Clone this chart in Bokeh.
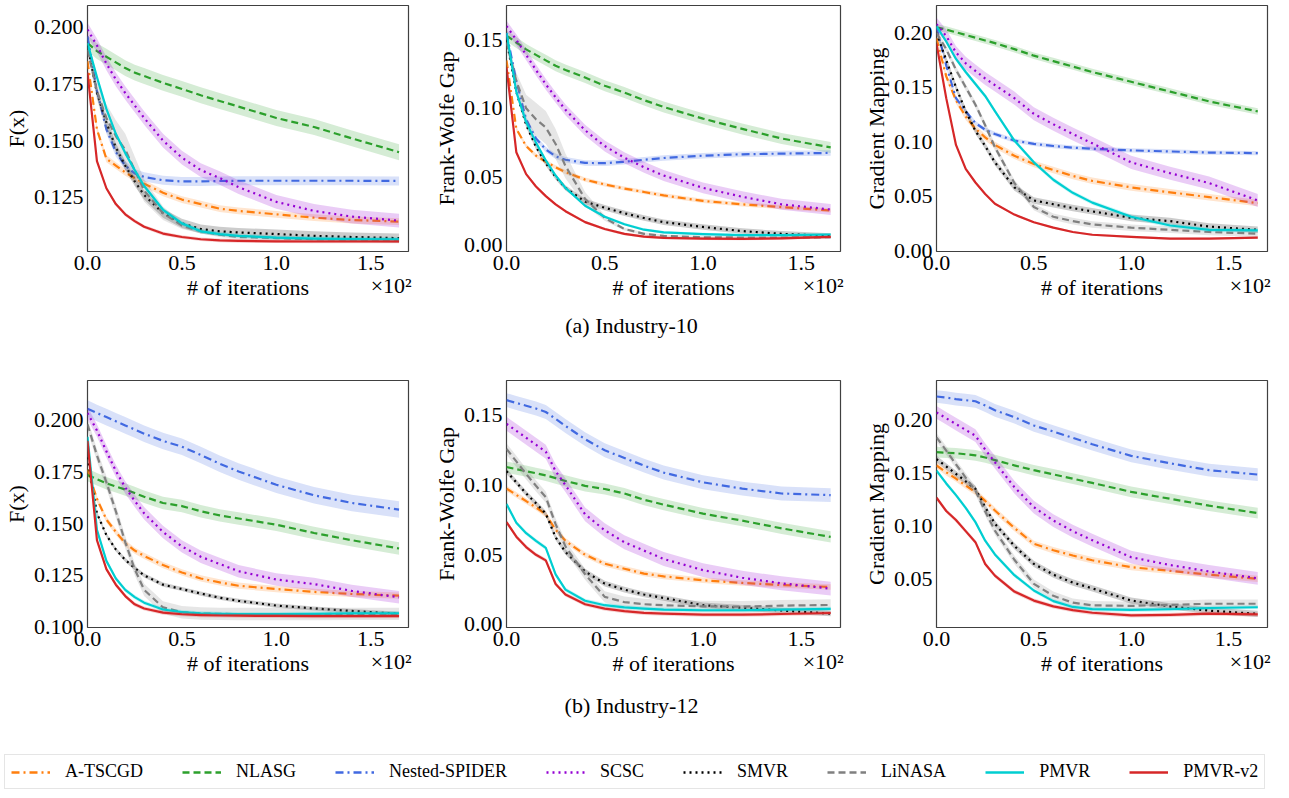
import numpy as np
from bokeh.plotting import figure
from bokeh.layouts import column, row
from bokeh.models import (Range1d, FixedTicker, NumeralTickFormatter, LinearAxis, Legend, LegendItem)
from bokeh.core.properties import value
from bokeh.embed import file_html
from bokeh.resources import INLINE

FONT = "Liberation Serif"

# ---------------- data ----------------
ITERS = [0, 5, 10, 15, 20, 25, 30, 40, 50, 60, 70, 80, 100, 120, 140, 165]
METHODS = ["A-TSCGD", "NLASG", "Nested-SPIDER", "SCSC", "SMVR", "LiNASA", "PMVR", "PMVR-v2"]
COLORS = ["#ff7f0e", "#2ca02c", "#4169e1", "#9400d3", "#000000", "#808080", "#00ced1", "#d62728"]
DASHES = ["8 4 2 4", "7 4", "8 4 2 4", "2 4", "2 4", "7 4", "solid", "solid"]
X_TICKS = [0.0, 0.5, 1.0, 1.5]
CAPTIONS = ["(a) Industry-10", "(b) Industry-12"]
X_LABEL = "# of iterations"
X_SCALE_TEXT = "\u00d710\u00b2"

# Industry-10, F(x)
I10_F_ATSCGD = [0.185, 0.155, 0.142, 0.139, 0.136, 0.1335, 0.131, 0.127, 0.124, 0.122, 0.120, 0.119, 0.1175, 0.116, 0.115, 0.1143]
I10_F_NLASG = [0.193, 0.1895, 0.187, 0.1845, 0.182, 0.180, 0.1785, 0.1755, 0.1728, 0.170, 0.1675, 0.165, 0.160, 0.156, 0.151, 0.1449]
I10_F_NESTED = [0.196, 0.172, 0.155, 0.145, 0.139, 0.1355, 0.134, 0.1325, 0.132, 0.132, 0.1322, 0.1323, 0.1323, 0.1323, 0.1323, 0.1322]
I10_F_SCSC = [0.199, 0.192, 0.184, 0.177, 0.171, 0.1655, 0.160, 0.150, 0.1425, 0.137, 0.1335, 0.1295, 0.123, 0.119, 0.1165, 0.1147]
I10_F_SMVR = [0.192, 0.171, 0.158, 0.147, 0.139, 0.132, 0.126, 0.118, 0.1135, 0.111, 0.110, 0.1095, 0.1088, 0.108, 0.1075, 0.107]
I10_F_LINASA = [0.190, 0.172, 0.160, 0.152, 0.146, 0.137, 0.128, 0.118, 0.1125, 0.110, 0.1085, 0.1075, 0.107, 0.1065, 0.1063, 0.1062]
I10_F_PMVR = [0.193, 0.178, 0.164, 0.153, 0.1445, 0.137, 0.130, 0.1195, 0.1135, 0.110, 0.1088, 0.108, 0.1072, 0.1068, 0.1066, 0.1065]
I10_F_PMVR2 = [0.180, 0.141, 0.129, 0.122, 0.1175, 0.1145, 0.112, 0.109, 0.1075, 0.1065, 0.106, 0.1058, 0.1056, 0.1055, 0.1055, 0.1055]
I10_F_LINASA_BAND = [0.002, 0.004, 0.006, 0.007, 0.007, 0.006, 0.005, 0.003, 0.0015, 0.001, 0.001, 0.001, 0.001, 0.001, 0.001, 0.001]
I10_F_BAND = [0.0015, 0.0035, 0.002, 0.003, 0.002, I10_F_LINASA_BAND, 0.001, 0.0008]

# Industry-10, Frank-Wolfe gap
I10_FW_ATSCGD = [0.135, 0.085, 0.0725, 0.0655, 0.061, 0.057, 0.0535, 0.048, 0.0445, 0.0415, 0.039, 0.0365, 0.0325, 0.030, 0.028, 0.0255]
I10_FW_NLASG = [0.153, 0.148, 0.143, 0.139, 0.135, 0.131, 0.128, 0.1225, 0.1165, 0.1115, 0.106, 0.101, 0.0925, 0.085, 0.078, 0.0715]
I10_FW_NESTED = [0.155, 0.120, 0.092, 0.078, 0.070, 0.065, 0.0625, 0.0602, 0.060, 0.061, 0.0625, 0.0638, 0.0655, 0.0665, 0.067, 0.0675]
I10_FW_SCSC = [0.160, 0.150, 0.139, 0.128, 0.1175, 0.108, 0.099, 0.084, 0.0725, 0.064, 0.057, 0.051, 0.042, 0.0355, 0.030, 0.0262]
I10_FW_SMVR = [0.150, 0.112, 0.088, 0.072, 0.060, 0.050, 0.042, 0.032, 0.0275, 0.0235, 0.020, 0.017, 0.0135, 0.0105, 0.0085, 0.007]
I10_FW_LINASA = [0.148, 0.120, 0.100, 0.092, 0.086, 0.074, 0.058, 0.034, 0.020, 0.012, 0.0085, 0.007, 0.006, 0.0058, 0.0058, 0.006]
I10_FW_PMVR = [0.155, 0.112, 0.090, 0.075, 0.062, 0.051, 0.042, 0.029, 0.021, 0.0155, 0.0115, 0.0095, 0.0082, 0.0075, 0.0075, 0.008]
I10_FW_PMVR2 = [0.130, 0.068, 0.052, 0.043, 0.036, 0.030, 0.025, 0.017, 0.012, 0.0085, 0.0065, 0.0055, 0.005, 0.0048, 0.0052, 0.0063]
I10_FW_LINASA_BAND = [0.003, 0.006, 0.010, 0.012, 0.012, 0.011, 0.009, 0.005, 0.002, 0.001, 0.001, 0.001, 0.001, 0.001, 0.001, 0.001]
I10_FW_BAND = [0.0015, 0.004, 0.002, 0.004, 0.002, I10_FW_LINASA_BAND, 0.001, 0.001]

# Industry-10, gradient mapping
I10_GM_ATSCGD = [0.195, 0.160, 0.138, 0.123, 0.112, 0.104, 0.097, 0.087, 0.0795, 0.074, 0.0685, 0.064, 0.058, 0.0535, 0.049, 0.0436]
I10_GM_NLASG = [0.205, 0.203, 0.2005, 0.198, 0.1955, 0.193, 0.1905, 0.185, 0.179, 0.174, 0.169, 0.164, 0.155, 0.146, 0.137, 0.1278]
I10_GM_NESTED = [0.205, 0.170, 0.140, 0.128, 0.117, 0.111, 0.107, 0.101, 0.098, 0.096, 0.0945, 0.0935, 0.092, 0.091, 0.090, 0.0895]
I10_GM_SCSC = [0.208, 0.197, 0.182, 0.172, 0.165, 0.158, 0.152, 0.140, 0.1256, 0.116, 0.107, 0.0985, 0.081, 0.071, 0.062, 0.046]
I10_GM_SMVR = [0.200, 0.175, 0.150, 0.128, 0.110, 0.096, 0.081, 0.058, 0.046, 0.0425, 0.039, 0.036, 0.030, 0.027, 0.022, 0.019]
I10_GM_LINASA = [0.200, 0.185, 0.166, 0.150, 0.134, 0.115, 0.095, 0.062, 0.040, 0.031, 0.027, 0.024, 0.021, 0.019, 0.017, 0.0155]
I10_GM_PMVR = [0.206, 0.192, 0.176, 0.164, 0.153, 0.142, 0.128, 0.101, 0.081, 0.065, 0.053, 0.044, 0.031, 0.023, 0.019, 0.0185]
I10_GM_PMVR2 = [0.190, 0.140, 0.097, 0.075, 0.0625, 0.052, 0.043, 0.033, 0.026, 0.021, 0.017, 0.0145, 0.0125, 0.011, 0.011, 0.0118]
I10_GM_BAND = [0.003, 0.003, 0.002, 0.006, 0.003, 0.003, 0.002, 0.001]

# Industry-12, F(x)
I12_F_ATSCGD = [0.176, 0.162, 0.152, 0.146, 0.1405, 0.137, 0.1344, 0.130, 0.1264, 0.1235, 0.1216, 0.120, 0.1184, 0.117, 0.116, 0.1152]
I12_F_NLASG = [0.1735, 0.1715, 0.1695, 0.168, 0.1665, 0.1648, 0.163, 0.160, 0.1585, 0.156, 0.154, 0.1525, 0.1495, 0.1455, 0.142, 0.138]
I12_F_NESTED = [0.2056, 0.2035, 0.2015, 0.1995, 0.1975, 0.1955, 0.1935, 0.190, 0.1872, 0.1832, 0.179, 0.1752, 0.1688, 0.1637, 0.160, 0.1568]
I12_F_SCSC = [0.2035, 0.195, 0.185, 0.1755, 0.1675, 0.161, 0.155, 0.146, 0.139, 0.134, 0.1305, 0.127, 0.123, 0.1208, 0.1175, 0.1144]
I12_F_SMVR = [0.182, 0.155, 0.1445, 0.1375, 0.1325, 0.1285, 0.125, 0.1205, 0.1184, 0.1162, 0.1142, 0.1127, 0.1104, 0.109, 0.1078, 0.1064]
I12_F_LINASA = [0.198, 0.183, 0.170, 0.156, 0.141, 0.128, 0.118, 0.1095, 0.1072, 0.1066, 0.1064, 0.1063, 0.1063, 0.1063, 0.1064, 0.1064]
I12_F_PMVR = [0.192, 0.147, 0.132, 0.1235, 0.118, 0.1145, 0.1118, 0.1085, 0.1072, 0.1066, 0.1064, 0.1063, 0.1063, 0.1064, 0.1066, 0.1067]
I12_F_PMVR2 = [0.190, 0.142, 0.128, 0.1205, 0.115, 0.111, 0.109, 0.107, 0.1062, 0.1058, 0.1056, 0.1055, 0.1054, 0.1053, 0.1053, 0.1053]
I12_F_BAND = [0.0015, 0.003, 0.004, 0.003, 0.001, 0.003, 0.001, 0.001]

# Industry-12, Frank-Wolfe gap
I12_FW_ATSCGD = [0.0975, 0.093, 0.0885, 0.084, 0.079, 0.068, 0.060, 0.050, 0.0436, 0.040, 0.0365, 0.0345, 0.0317, 0.0298, 0.0283, 0.0269]
I12_FW_NLASG = [0.113, 0.1115, 0.110, 0.1085, 0.107, 0.105, 0.103, 0.0995, 0.0972, 0.094, 0.0895, 0.086, 0.0795, 0.0745, 0.069, 0.0628]
I12_FW_NESTED = [0.161, 0.159, 0.157, 0.155, 0.1525, 0.1475, 0.1425, 0.133, 0.125, 0.1195, 0.114, 0.109, 0.102, 0.0975, 0.094, 0.0928]
I12_FW_SCSC = [0.144, 0.139, 0.134, 0.129, 0.124, 0.110, 0.100, 0.079, 0.0676, 0.059, 0.053, 0.047, 0.039, 0.0335, 0.0295, 0.0257]
I12_FW_SMVR = [0.110, 0.102, 0.094, 0.087, 0.0795, 0.0625, 0.052, 0.038, 0.0293, 0.025, 0.0215, 0.019, 0.0138, 0.012, 0.010, 0.0078]
I12_FW_LINASA = [0.126, 0.117, 0.108, 0.0995, 0.0914, 0.072, 0.056, 0.036, 0.0198, 0.016, 0.0145, 0.0138, 0.013, 0.0128, 0.0135, 0.014]
I12_FW_PMVR = [0.0865, 0.073, 0.0655, 0.060, 0.055, 0.036, 0.025, 0.017, 0.0138, 0.0122, 0.0113, 0.0107, 0.0102, 0.0102, 0.0107, 0.0112]
I12_FW_PMVR2 = [0.0735, 0.063, 0.0555, 0.050, 0.046, 0.029, 0.0215, 0.0145, 0.0114, 0.0095, 0.0083, 0.0077, 0.007, 0.007, 0.0075, 0.0082]
I12_FW_BAND = [0.002, 0.004, 0.005, 0.005, 0.002, 0.004, 0.0015, 0.0015]

# Industry-12, gradient mapping
I12_GM_ATSCGD = [0.157, 0.1505, 0.1445, 0.138, 0.1318, 0.1235, 0.1145, 0.098, 0.083, 0.077, 0.072, 0.0675, 0.061, 0.0575, 0.054, 0.050]
I12_GM_NLASG = [0.1695, 0.169, 0.1685, 0.1675, 0.1665, 0.1645, 0.162, 0.157, 0.1525, 0.1485, 0.1445, 0.1405, 0.132, 0.1255, 0.119, 0.112]
I12_GM_NESTED = [0.222, 0.221, 0.2195, 0.2185, 0.2175, 0.2135, 0.209, 0.2025, 0.1947, 0.189, 0.183, 0.177, 0.166, 0.159, 0.1525, 0.1484]
I12_GM_SCSC = [0.207, 0.2015, 0.196, 0.1905, 0.185, 0.172, 0.160, 0.1365, 0.1176, 0.105, 0.095, 0.0865, 0.0704, 0.063, 0.057, 0.0505]
I12_GM_SMVR = [0.163, 0.156, 0.149, 0.142, 0.1349, 0.1175, 0.102, 0.081, 0.0641, 0.054, 0.0465, 0.041, 0.0295, 0.024, 0.020, 0.017]
I12_GM_LINASA = [0.1835, 0.171, 0.158, 0.1455, 0.1333, 0.1135, 0.0955, 0.068, 0.0453, 0.034, 0.0275, 0.025, 0.0245, 0.0255, 0.0265, 0.0265]
I12_GM_PMVR = [0.152, 0.140, 0.129, 0.117, 0.1035, 0.086, 0.073, 0.0535, 0.039, 0.029, 0.0235, 0.0215, 0.0207, 0.0213, 0.0225, 0.0232]
I12_GM_PMVR2 = [0.1265, 0.114, 0.1055, 0.095, 0.0846, 0.064, 0.053, 0.038, 0.0295, 0.024, 0.0205, 0.018, 0.0155, 0.016, 0.0172, 0.0165]
I12_GM_BAND = [0.003, 0.005, 0.006, 0.006, 0.003, 0.004, 0.002, 0.002]

PANEL_SERIES = [
    [I10_F_ATSCGD, I10_F_NLASG, I10_F_NESTED, I10_F_SCSC, I10_F_SMVR, I10_F_LINASA, I10_F_PMVR, I10_F_PMVR2],
    [I10_FW_ATSCGD, I10_FW_NLASG, I10_FW_NESTED, I10_FW_SCSC, I10_FW_SMVR, I10_FW_LINASA, I10_FW_PMVR, I10_FW_PMVR2],
    [I10_GM_ATSCGD, I10_GM_NLASG, I10_GM_NESTED, I10_GM_SCSC, I10_GM_SMVR, I10_GM_LINASA, I10_GM_PMVR, I10_GM_PMVR2],
    [I12_F_ATSCGD, I12_F_NLASG, I12_F_NESTED, I12_F_SCSC, I12_F_SMVR, I12_F_LINASA, I12_F_PMVR, I12_F_PMVR2],
    [I12_FW_ATSCGD, I12_FW_NLASG, I12_FW_NESTED, I12_FW_SCSC, I12_FW_SMVR, I12_FW_LINASA, I12_FW_PMVR, I12_FW_PMVR2],
    [I12_GM_ATSCGD, I12_GM_NLASG, I12_GM_NESTED, I12_GM_SCSC, I12_GM_SMVR, I12_GM_LINASA, I12_GM_PMVR, I12_GM_PMVR2],
]
PANEL_BANDS = [I10_F_BAND, I10_FW_BAND, I10_GM_BAND, I12_F_BAND, I12_FW_BAND, I12_GM_BAND]
Y_LABELS = ["F(x)", "Frank-Wolfe Gap", "Gradient Mapping", "F(x)", "Frank-Wolfe Gap", "Gradient Mapping"]
Y_RANGES = [(0.1011, 0.2096), (-0.0044, 0.1750), (-0.0009, 0.2251),
            (0.0998, 0.2192), (-0.0022, 0.1751), (0.0041, 0.2371)]
Y_TICKS = [[0.125, 0.150, 0.175, 0.200], [0.0, 0.05, 0.10, 0.15], [0.0, 0.05, 0.10, 0.15, 0.20],
           [0.100, 0.125, 0.150, 0.175, 0.200], [0.0, 0.05, 0.10, 0.15], [0.05, 0.10, 0.15, 0.20]]
Y_FORMATS = ["0.000", "0.00", "0.00", "0.000", "0.00", "0.00"]
X_END = 1.70

# layout: (width, height, left, right, top, bottom)
GEOM = [(430, 310, 83, 22, 5, 59), (430, 310, 73, 20, 5, 59), (413, 310, 72, 6, 5, 59),
        (430, 345, 83, 22, 35, 63), (430, 345, 73, 20, 35, 63), (413, 345, 72, 6, 35, 63)]

X = np.array(ITERS) / 100.0


def style_axis(ax):
    ax.axis_line_color = None
    ax.major_tick_out = 0
    ax.major_tick_in = 0
    ax.minor_tick_out = 0
    ax.minor_tick_in = 0
    ax.major_label_text_font = FONT
    ax.major_label_text_font_size = "22px"
    ax.major_label_text_color = "black"
    ax.axis_label_text_font = FONT
    ax.axis_label_text_font_size = "22px"
    ax.axis_label_text_font_style = "normal"
    ax.axis_label_text_color = "black"
    ax.major_label_standoff = 4
    ax.axis_label_standoff = 2


def make_panel(i):
    w, h, ml, mr, mt, mb = GEOM[i]
    y0, y1 = Y_RANGES[i]
    p = figure(width=w, height=h, x_range=Range1d(0, X_END), y_range=Range1d(y0, y1),
               output_backend="svg", toolbar_location=None,
               min_border_left=ml, min_border_right=mr, min_border_top=mt, min_border_bottom=mb)
    p.grid.visible = False
    p.outline_line_color = "#404040"
    p.outline_line_width = 1.2
    p.background_fill_color = "white"
    p.border_fill_color = "white"
    for ax in (p.xaxis, p.yaxis):
        style_axis(ax)
    p.xaxis.ticker = FixedTicker(ticks=X_TICKS, minor_ticks=[])
    p.xaxis.formatter = NumeralTickFormatter(format="0.0")
    p.xaxis.axis_label = X_LABEL
    p.yaxis.ticker = FixedTicker(ticks=Y_TICKS[i], minor_ticks=[])
    p.yaxis.formatter = NumeralTickFormatter(format=Y_FORMATS[i])
    p.yaxis.axis_label = Y_LABELS[i]

    for k in range(len(METHODS)):
        y = np.array(PANEL_SERIES[i][k])
        b = np.array(PANEL_BANDS[i][k]) * np.ones_like(y)
        p.varea(x=X, y1=y - b, y2=y + b, fill_color=COLORS[k], fill_alpha=0.2)
        p.line(x=X, y=y, line_color=COLORS[k], line_width=2.2, line_dash=DASHES[k], line_join="round")

    # scale factor text (x10^2) at the right end, on the axis-label line
    fw = w - ml - mr
    xpos = X_END - 17.5 / fw * X_END
    sc = LinearAxis(ticker=FixedTicker(ticks=[xpos], minor_ticks=[]),
                    major_label_overrides={xpos: X_SCALE_TEXT})
    style_axis(sc)
    sc.major_label_standoff = -30
    p.add_layout(sc, "below")
    return p


def make_caption(text, h, ytxt):
    c = figure(width=1273, height=h, x_range=Range1d(0, 1273), y_range=Range1d(0, h),
               output_backend="svg", toolbar_location=None, x_axis_type=None, y_axis_type=None,
               min_border=0)
    c.grid.visible = False
    c.outline_line_color = None
    c.text(x=[631], y=[ytxt], text=[text], text_font=value(FONT), text_font_size=value("22px"),
           text_align="center", text_baseline="middle", text_color="black")
    return c


panels = [make_panel(i) for i in range(6)]
capA = make_caption(CAPTIONS[0], 35, 20)
capB = make_caption(CAPTIONS[1], 32, 17)

leg = figure(width=1273, height=68, x_range=Range1d(0, 1), y_range=Range1d(0, 1),
             output_backend="svg", toolbar_location=None, x_axis_type=None, y_axis_type=None,
             min_border=0)
leg.grid.visible = False
leg.outline_line_color = None
items = []
for k, m in enumerate(METHODS):
    r = leg.line(x=[-5, -4], y=[-5, -5], line_color=COLORS[k], line_width=2.5, line_dash=DASHES[k])
    items.append(LegendItem(label=m, renderers=[r]))
legend = Legend(items=items, orientation="horizontal", location=(4, 1),
                label_text_font=FONT, label_text_font_size="18px", label_text_color="black",
                label_standoff=15, glyph_width=39, glyph_height=18, label_height=18,
                spacing=39, padding=6, margin=0,
                border_line_color="#cccccc", border_line_width=1, background_fill_color="white")
leg.add_layout(legend, "center")

layout = column(row(*panels[:3]), capA, row(*panels[3:]), capB, leg)

open("out.html", "w").write(file_html(layout, INLINE))
